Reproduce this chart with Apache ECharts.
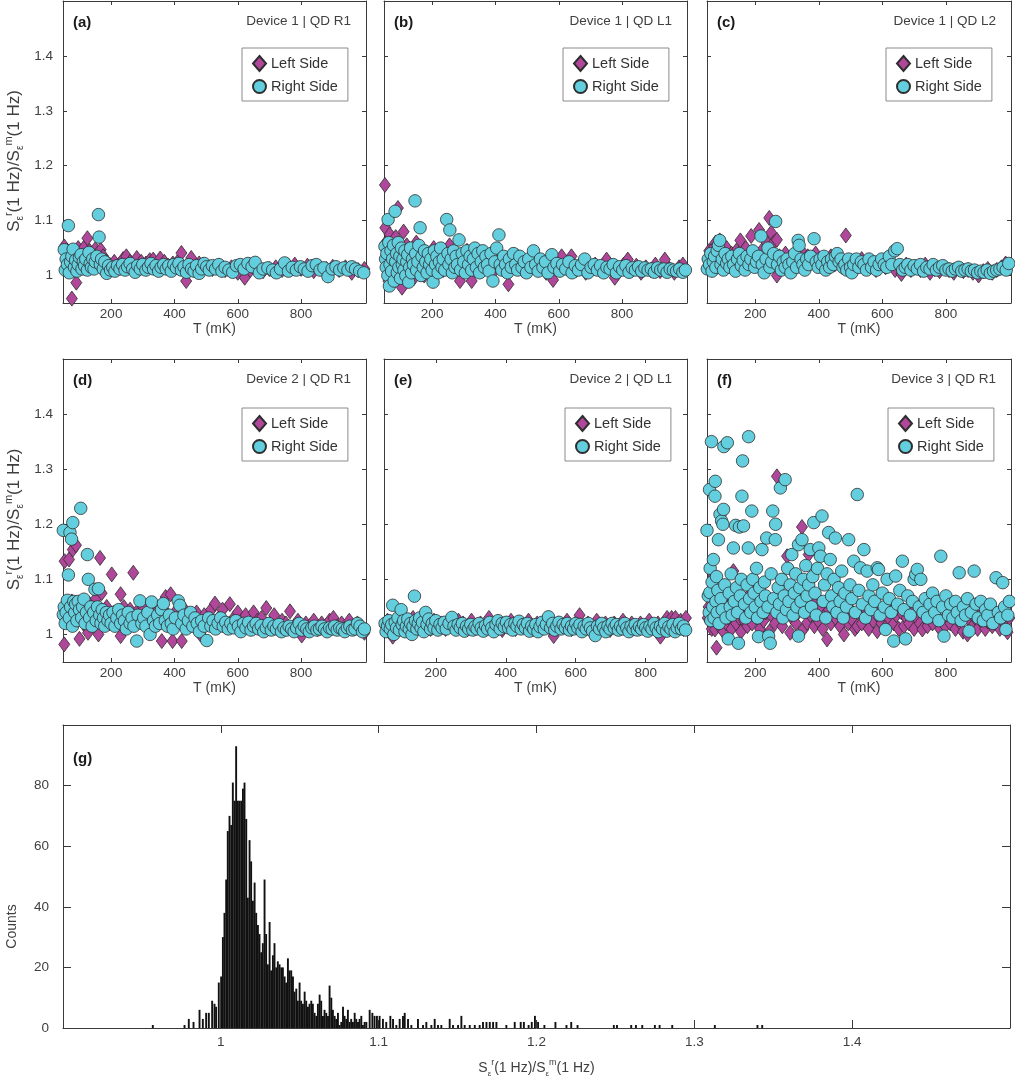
<!DOCTYPE html>
<html>
<head>
<meta charset="utf-8">
<script src="https://cdn.jsdelivr.net/npm/echarts@6/dist/echarts.min.js"></script>
<style>
html,body{margin:0;padding:0;background:#fff;}
#chart{width:1015px;height:1084px;}
</style>
</head>
<body>
<div id="chart"></div>
<script>
// ---------------- DATA ----------------
// Panel (a) Device 1 | QD R1  : [T (mK), ratio]
const aL = [[52,1.053],[56,1.03],[62,1.045],[70,1.035],[76,0.958],[82,1.04],[90,0.987],[96,1.05],[104,1.04],[113,1.05],[120,1.035],[125,1.068],[132,1.045],[140,1.03],[150,1.048],[158,1.04],[167,1.047],[175,1.035],[185,1.025],[195,1.02],[210,1.025],[225,1.02],[238,1.03],[248,1.035],[260,1.025],[270,1.02],[281,1.032],[295,1.025],[310,1.022],[322,1.028],[333,1.029],[345,1.02],[355,1.031],[368,1.025],[380,1.018],[395,1.022],[410,1.025],[422,1.041],[437,0.990],[445,1.02],[453,1.032],[465,1.015],[478,1.022],[490,1.02],[505,1.015],[520,1.012],[540,1.018],[560,1.01],[580,1.015],[600,1.005],[622,0.996],[640,1.01],[660,1.015],[680,1.008],[700,1.012],[720,1.015],[740,1.01],[760,1.018],[780,1.02],[800,1.012],[820,1.018],[840,1.008],[860,1.015],[880,1.012],[900,1.016],[920,1.01],[940,1.015],[960,1.005],[980,1.01],[1000,1.012]];
const aR = [[52,1.047],[55,1.01],[58,1.03],[62,1.02],[65,1.091],[68,1.005],[72,1.025],[76,1.035],[80,1.048],[84,1.015],[88,1.028],[92,1.008],[96,1.02],[100,1.033],[105,1.038],[108,1.012],[112,1.025],[116,1.018],[120,1.03],[125,1.01],[130,1.042],[134,1.022],[138,1.015],[142,1.03],[146,1.012],[150,1.025],[155,1.035],[160,1.111],[162,1.07],[166,1.02],[170,1.03],[175,1.012],[180,1.025],[186,1.004],[192,1.018],[198,1.01],[205,1.015],[212,1.008],[220,1.018],[228,1.012],[236,1.02],[244,1.01],[252,1.016],[260,1.022],[268,1.012],[276,1.006],[284,1.018],[292,1.012],[300,1.02],[310,1.01],[318,1.015],[326,1.022],[334,1.012],[342,1.018],[350,1.008],[358,1.015],[366,1.02],[374,1.012],[382,1.018],[390,1.008],[398,1.02],[406,1.014],[414,1.022],[422,1.01],[430,1.016],[438,1.006],[446,1.02],[454,1.012],[462,1.008],[470,1.018],[478,1.004],[486,1.012],[494,1.022],[502,1.016],[510,1.01],[520,1.018],[530,1.012],[540,1.02],[550,1.008],[560,1.015],[572,1.01],[584,1.006],[596,1.018],[608,1.02],[620,1.012],[632,1.022],[645,1.016],[655,1.024],[668,1.005],[680,1.012],[695,1.014],[710,1.01],[722,1.005],[735,1.012],[748,1.023],[760,1.008],[772,1.015],[785,1.01],[798,1.016],[810,1.012],[822,1.008],[835,1.018],[848,1.02],[860,1.01],[872,1.014],[885,0.998],[898,1.012],[910,1.016],[922,1.01],[935,1.014],[948,1.01],[960,1.016],[972,1.012],[985,1.008],[998,1.005]];

// Panel (b) Device 1 | QD L1
const bL = [[51,1.165],[52,1.087],[54,1.06],[58,1.04],[62,0.99],[66,1.075],[70,1.02],[75,1.05],[80,1.03],[85,1.07],[92,1.123],[96,1.045],[100,1.015],[105,0.978],[110,1.08],[115,1.035],[120,1.055],[128,1.02],[135,1.04],[142,0.995],[150,1.06],[158,1.025],[166,1.045],[175,1.0],[185,1.035],[195,1.015],[205,1.05],[215,1.025],[225,1.04],[235,1.01],[245,1.03],[255,1.055],[265,1.02],[275,1.04],[288,0.99],[298,1.025],[310,1.045],[325,0.99],[335,1.03],[348,1.015],[360,1.04],[372,1.02],[385,1.035],[398,1.01],[410,1.03],[425,1.02],[441,0.984],[455,1.025],[470,1.035],[485,1.01],[500,1.02],[515,1.03],[530,1.015],[545,1.025],[560,1.005],[582,0.992],[595,1.015],[609,1.035],[625,1.02],[640,1.035],[655,1.01],[670,1.02],[685,1.005],[700,1.015],[715,1.02],[730,1.01],[751,1.029],[765,1.015],[777,0.996],[790,1.012],[805,1.02],[818,1.029],[832,1.01],[845,1.018],[860,1.005],[875,1.015],[890,1.01],[905,1.02],[920,1.008],[935,1.029],[950,1.012],[965,1.005],[980,1.015],[992,1.02]];
const bR = [[51,1.053],[53,1.03],[55,1.015],[57,1.04],[60,1.0],[61,1.102],[63,1.06],[65,0.981],[67,1.02],[70,1.045],[72,1.008],[75,1.03],[78,1.055],[80,0.99],[83,1.117],[85,1.025],[88,1.04],[90,1.005],[93,1.06],[95,1.015],[98,1.035],[100,0.995],[103,1.05],[106,1.02],[108,1.03],[111,1.01],[114,1.045],[117,1.0],[120,1.025],[123,1.038],[126,0.988],[129,1.015],[132,1.05],[135,1.005],[138,1.03],[141,1.02],[146,1.136],[148,1.04],[151,1.01],[155,1.025],[158,1.055],[162,1.087],[165,1.0],[168,1.035],[172,1.015],[176,1.045],[180,1.025],[184,1.005],[188,1.04],[192,1.02],[196,1.03],[200,1.01],[203,0.988],[207,1.045],[211,1.02],[215,1.035],[219,1.005],[223,1.025],[227,1.05],[231,1.015],[235,1.03],[240,1.01],[246,1.102],[250,1.04],[253,1.02],[256,1.083],[260,1.03],[264,1.005],[268,1.045],[272,1.015],[276,1.035],[280,1.02],[285,1.065],[290,1.01],[295,1.04],[300,1.025],[305,1.005],[310,1.045],[315,1.02],[320,1.035],[325,1.01],[330,1.03],[335,1.05],[340,1.015],[345,1.04],[350,1.005],[355,1.025],[360,1.045],[365,1.015],[370,1.035],[375,1.02],[380,1.008],[386,1.04],[392,0.99],[398,1.025],[404,1.05],[411,1.074],[415,1.02],[420,1.01],[426,1.035],[432,1.02],[438,1.005],[444,1.03],[450,1.015],[457,1.04],[464,1.02],[470,1.01],[477,1.035],[484,1.015],[491,1.025],[498,1.005],[505,1.03],[512,1.015],[520,1.045],[527,1.02],[535,1.008],[542,1.03],[550,1.015],[558,1.025],[566,1.005],[578,1.038],[585,1.015],[594,1.022],[603,1.008],[612,1.02],[622,1.012],[632,1.025],[642,1.005],[652,1.018],[662,1.01],[672,1.02],[682,1.03],[692,1.005],[702,1.015],[712,1.02],[722,1.01],[732,1.018],[742,1.005],[752,1.015],[762,1.012],[772,1.02],[782,1.005],[792,1.016],[802,1.01],[812,1.018],[822,1.006],[832,1.014],[842,1.01],[852,1.016],[862,1.008],[872,1.014],[882,1.01],[892,1.012],[902,1.006],[912,1.014],[922,1.01],[932,1.012],[942,1.006],[952,1.012],[962,1.01],[972,1.008],[982,1.012],[992,1.006],[1000,1.01]];

// Panel (c) Device 1 | QD L2
const cL = [[50,1.03],[55,1.045],[62,1.025],[68,1.05],[75,1.06],[82,1.035],[88,1.064],[95,1.045],[102,1.025],[110,1.05],[118,1.03],[125,1.04],[132,1.015],[140,1.045],[153,1.064],[160,1.03],[170,1.05],[178,1.025],[187,1.072],[195,1.04],[203,1.02],[212,1.083],[220,1.045],[228,1.025],[236,1.06],[244,1.105],[250,1.078],[258,1.06],[268,1.065],[268,1.0],[276,1.035],[285,1.02],[295,1.04],[305,1.025],[315,1.035],[325,1.015],[335,1.03],[345,1.045],[355,1.02],[365,1.035],[375,1.025],[390,1.04],[400,1.02],[412,1.03],[425,1.015],[438,1.035],[450,1.02],[462,1.03],[474,1.015],[485,1.073],[495,1.025],[508,1.01],[520,1.02],[535,1.03],[550,1.015],[565,1.025],[580,1.01],[595,1.02],[610,1.015],[625,1.025],[640,1.01],[660,1.003],[675,1.02],[690,1.01],[705,1.015],[720,1.01],[735,1.02],[750,1.005],[765,1.012],[780,1.008],[795,1.015],[810,1.01],[825,1.005],[840,1.012],[855,1.008],[870,1.01],[885,1.005],[903,1.0],[918,1.008],[932,1.012],[946,1.005],[960,1.01],[975,1.015],[988,1.022]];
const cR = [[49,1.012],[52,1.03],[56,1.02],[60,1.04],[64,1.008],[68,1.025],[72,1.035],[76,1.015],[80,1.045],[84,1.055],[88,1.064],[92,1.02],[96,1.03],[100,1.01],[105,1.04],[110,1.022],[115,1.03],[120,1.015],[126,1.035],[132,1.02],[138,1.008],[144,1.03],[150,1.04],[156,1.018],[162,1.028],[168,1.01],[174,1.035],[180,1.02],[186,1.03],[192,1.045],[198,1.015],[204,1.025],[210,1.035],[218,1.072],[222,1.02],[228,1.005],[234,1.03],[240,1.05],[246,1.015],[252,1.025],[258,1.04],[264,1.0985],[270,1.02],[276,1.035],[282,1.01],[288,1.025],[294,1.015],[300,1.03],[306,1.02],[312,1.005],[318,1.025],[324,1.04],[330,1.015],[335,1.064],[338,1.055],[344,1.03],[350,1.02],[356,1.01],[362,1.03],[368,1.02],[374,1.035],[385,1.067],[392,1.025],[398,1.015],[404,1.03],[410,1.02],[416,1.035],[422,1.01],[428,1.025],[434,1.015],[440,1.03],[446,1.02],[452,1.035],[458,1.04],[464,1.025],[470,1.03],[476,1.015],[482,1.02],[488,1.01],[494,1.03],[500,1.015],[504,1.005],[510,1.02],[518,1.03],[526,1.015],[534,1.025],[542,1.02],[550,1.01],[558,1.03],[566,1.015],[574,1.025],[582,1.01],[590,1.02],[598,1.03],[606,1.02],[614,1.015],[622,1.035],[630,1.02],[639,1.045],[647,1.049],[655,1.02],[664,1.01],[672,1.015],[680,1.02],[690,1.01],[700,1.018],[710,1.012],[720,1.02],[730,1.008],[740,1.015],[750,1.012],[760,1.02],[770,1.01],[780,1.015],[790,1.018],[800,1.01],[810,1.012],[820,1.008],[830,1.012],[840,1.015],[850,1.008],[860,1.01],[870,1.012],[880,1.008],[890,1.01],[900,1.005],[910,1.008],[920,1.006],[930,1.01],[940,1.004],[950,1.008],[960,1.01],[970,1.012],[980,1.015],[990,1.01],[998,1.022]];

// Panel (d) Device 2 | QD R1
const dL = [[52,0.982],[53,1.133],[56,1.05],[60,1.03],[64,1.045],[67,1.136],[72,1.025],[76,1.06],[79,1.154],[84,1.04],[89,1.162],[94,1.03],[100,0.992],[105,1.05],[110,1.035],[115,1.02],[120,1.045],[125,1.01],[127,1.003],[132,1.055],[138,1.03],[145,1.04],[152,1.065],[160,1.0],[165,1.139],[170,1.075],[178,1.035],[186,1.05],[194,1.02],[202,1.109],[210,1.04],[218,1.025],[230,1.073],[230,0.997],[240,1.05],[250,1.03],[260,1.045],[270,1.112],[280,1.04],[290,1.025],[300,1.05],[312,1.02],[322,1.04],[335,1.03],[348,1.045],[360,0.988],[372,1.068],[380,1.035],[388,1.073],[394,0.988],[402,1.04],[412,1.025],[423,0.988],[432,1.045],[445,1.03],[458,1.02],[470,1.04],[482,1.0],[494,1.035],[505,1.02],[516,1.045],[528,1.056],[540,1.03],[552,1.045],[564,1.02],[575,1.055],[588,1.03],[600,1.04],[612,1.025],[625,1.035],[638,1.015],[650,1.04],[662,1.025],[675,1.03],[690,1.048],[702,1.02],[715,1.035],[728,1.01],[740,1.025],[752,1.02],[765,1.042],[778,1.015],[790,1.025],[802,0.998],[815,1.02],[828,1.015],[840,1.025],[852,1.01],[865,1.02],[878,1.015],[890,1.025],[902,1.03],[915,1.015],[928,1.02],[940,1.01],[952,1.025],[965,1.015],[978,1.02],[990,1.01],[1000,1.003]];
const dR = [[49,1.189],[49,1.036],[52,1.05],[55,1.02],[58,1.04],[62,1.062],[65,1.108],[68,1.03],[70,1.185],[72,1.05],[75,1.173],[78,1.015],[79,1.203],[82,1.06],[85,1.04],[88,1.055],[92,1.025],[96,1.06],[100,1.045],[104,1.229],[107,1.03],[110,1.05],[114,1.064],[118,1.02],[122,1.04],[125,1.145],[128,1.1],[132,1.03],[136,1.05],[140,1.015],[145,1.04],[149,1.082],[153,1.025],[157,1.05],[160,1.083],[164,1.035],[168,1.02],[172,1.045],[176,1.03],[180,1.015],[185,1.04],[190,1.025],[195,1.035],[200,1.02],[206,1.04],[212,1.015],[218,1.03],[224,1.045],[230,1.02],[236,1.035],[242,1.025],[248,1.01],[254,1.04],[260,1.02],[266,1.03],[272,1.015],[281,0.988],[285,1.035],[291,1.061],[297,1.02],[303,1.03],[310,1.015],[316,1.04],[323,1.0],[328,1.059],[334,1.025],[340,1.015],[347,1.035],[353,1.02],[359,1.045],[365,1.056],[371,1.025],[378,1.015],[384,1.035],[390,1.02],[396,1.01],[403,1.03],[412,1.061],[417,1.053],[423,1.02],[430,1.035],[437,1.01],[444,1.025],[451,1.04],[458,1.015],[465,1.03],[472,1.02],[479,1.005],[486,1.025],[494,1.015],[502,0.989],[508,1.03],[515,1.015],[522,1.025],[530,1.01],[538,1.02],[546,1.03],[554,1.015],[562,1.022],[570,1.01],[578,1.02],[586,1.012],[594,1.025],[602,1.015],[610,1.005],[618,1.02],[626,1.012],[634,1.022],[642,1.008],[650,1.015],[658,1.02],[666,1.01],[674,1.016],[682,1.005],[690,1.012],[698,1.02],[706,1.008],[714,1.015],[722,1.01],[730,1.018],[738,1.005],[746,1.012],[754,1.008],[762,1.015],[770,1.01],[778,1.005],[786,1.012],[794,1.02],[802,1.008],[810,1.015],[818,1.01],[826,1.005],[834,1.012],[842,1.015],[850,1.008],[858,1.01],[866,1.015],[874,1.01],[882,1.005],[890,1.012],[898,1.01],[906,1.015],[914,1.008],[922,1.012],[930,1.01],[938,1.005],[946,1.012],[954,1.015],[962,1.008],[970,1.01],[978,1.02],[986,1.015],[994,1.005],[1000,1.01]];

// Panel (e) Device 2 | QD L1
const eL = [[55,1.015],[62,1.025],[70,1.01],[77,0.996],[85,1.02],[95,1.015],[105,1.025],[115,1.01],[125,1.02],[135,1.03],[145,1.015],[155,1.025],[165,1.035],[175,1.02],[185,1.01],[195,1.025],[205,1.015],[215,1.02],[228,1.01],[240,1.02],[252,1.015],[265,1.025],[278,1.02],[290,1.01],[302,1.025],[315,1.015],[328,1.02],[340,1.01],[352,1.03],[365,1.015],[378,1.02],[390,1.008],[402,1.02],[415,1.025],[428,1.01],[440,1.02],[452,1.015],[465,1.025],[478,1.01],[490,1.02],[503,1.015],[515,1.025],[528,1.01],[537,0.997],[550,1.02],[562,1.015],[575,1.025],[588,1.01],[600,1.02],[611,1.035],[622,1.015],[635,1.02],[648,1.01],[660,1.025],[672,1.015],[685,1.02],[698,1.008],[710,1.02],[722,1.015],[735,1.025],[748,1.01],[760,1.02],[772,1.012],[785,1.02],[798,1.01],[810,1.025],[822,1.015],[835,1.02],[842,0.996],[850,1.015],[861,1.03],[868,1.01],[874,1.03],[880,1.02],[885,1.03],[892,1.015],[900,1.025],[908,1.01],[915,1.03]];
const eR = [[55,1.02],[58,1.005],[62,1.015],[66,1.025],[70,1.01],[74,1.018],[77,1.053],[80,1.0],[84,1.022],[88,1.012],[92,1.03],[96,1.008],[101,1.045],[104,1.018],[108,1.025],[112,1.005],[116,1.015],[120,1.028],[124,1.01],[128,1.02],[132,1.0],[135,1.015],[139,1.0695],[142,1.025],[146,1.01],[150,1.02],[154,1.03],[158,1.012],[162,1.022],[166,1.005],[171,1.04],[175,1.018],[180,1.028],[185,1.01],[190,1.02],[195,1.012],[200,1.025],[206,1.008],[212,1.018],[218,1.012],[224,1.022],[230,1.01],[238,1.02],[246,1.031],[252,1.015],[258,1.008],[264,1.018],[270,1.012],[276,1.02],[282,1.006],[288,1.015],[294,1.01],[300,1.018],[306,1.008],[312,1.014],[318,1.01],[324,1.02],[330,1.012],[336,1.006],[342,1.016],[348,1.01],[354,1.022],[360,1.012],[366,1.005],[372,1.018],[378,1.025],[384,1.01],[390,1.02],[396,1.014],[402,1.022],[408,1.012],[414,1.018],[420,1.008],[426,1.02],[432,1.015],[438,1.024],[444,1.01],[450,1.018],[456,1.012],[462,1.02],[468,1.006],[474,1.015],[480,1.01],[486,1.018],[492,1.005],[498,1.014],[504,1.022],[510,1.01],[516,1.018],[522,1.032],[528,1.012],[534,1.02],[540,1.008],[546,1.015],[552,1.022],[558,1.01],[564,1.018],[570,1.012],[576,1.02],[582,1.008],[588,1.015],[594,1.01],[600,1.02],[606,1.012],[612,1.018],[618,1.005],[624,1.015],[630,1.01],[636,1.02],[642,1.012],[648,1.006],[656,0.998],[662,1.015],[668,1.01],[674,1.02],[680,1.012],[686,1.005],[692,1.015],[698,1.01],[704,1.02],[710,1.012],[716,1.018],[722,1.008],[728,1.015],[734,1.01],[740,1.02],[746,1.012],[752,1.005],[758,1.015],[764,1.01],[770,1.018],[776,1.008],[782,1.014],[788,1.01],[794,1.018],[800,1.012],[806,1.006],[812,1.015],[818,1.01],[824,1.02],[830,1.012],[836,1.005],[842,1.015],[848,1.01],[854,1.02],[860,1.006],[866,1.014],[872,1.01],[878,1.018],[884,1.005],[890,1.012],[896,1.02],[902,1.01],[908,1.015],[914,1.008]];

// Panel (f) Device 3 | QD R1
const fL = [[50,1.03],[53,1.05],[57,1.024],[60,1.065],[63,1.01],[66,1.04],[68,1.106],[68,1.051],[71,1.02],[73,1.009],[75,1.055],[78,0.976],[81,1.035],[84,1.07],[87,1.015],[90,1.045],[94,1.025],[97,1.06],[100,1.005],[104,1.04],[108,1.02],[112,1.075],[116,1.03],[120,1.05],[125,1.01],[131,1.115],[135,1.04],[140,1.02],[145,1.065],[150,1.03],[155,1.005],[160,1.045],[165,1.025],[170,1.06],[175,1.015],[180,1.04],[185,1.075],[190,1.02],[195,1.05],[200,1.082],[205,1.03],[210,1.042],[215,1.01],[220,1.055],[226,1.025],[232,1.04],[238,1.065],[244,1.005],[250,1.035],[256,1.05],[262,1.02],[268,1.287],[273,1.04],[279,1.06],[285,1.015],[292,1.035],[300,1.142],[305,1.05],[310,1.003],[316,1.03],[322,1.055],[328,1.02],[335,1.04],[341,1.065],[347,1.195],[352,1.01],[358,1.045],[363,1.021],[368,1.145],[374,1.035],[380,1.06],[386,1.015],[392,1.04],[398,1.025],[405,1.05],[412,1.01],[419,1.035],[426,0.991],[432,1.045],[438,1.02],[445,1.06],[452,1.03],[460,1.04],[467,1.015],[473,1.05],[479,1.0],[486,1.035],[493,1.02],[500,1.045],[507,1.025],[514,1.01],[521,1.015],[528,1.04],[535,1.02],[542,1.05],[550,1.03],[557,1.01],[564,1.04],[571,1.025],[578,1.045],[584,1.006],[590,1.03],[597,1.02],[605,1.04],[612,1.015],[620,1.03],[628,1.05],[636,1.02],[644,1.035],[652,1.01],[660,1.04],[668,1.015],[676,1.03],[684,1.02],[692,1.045],[700,1.01],[708,1.03],[718,1.02],[726,1.009],[734,1.035],[742,1.015],[750,1.04],[758,1.02],[766,1.03],[774,1.045],[782,1.01],[790,1.025],[798,1.015],[806,1.035],[814,1.02],[822,1.04],[830,1.01],[838,1.03],[846,1.02],[854,1.005],[861,1.035],[868,1.0],[876,1.025],[884,1.015],[892,1.03],[900,1.01],[908,1.04],[916,1.02],[924,1.01],[931,1.024],[938,1.035],[946,1.015],[954,1.03],[962,1.02],[970,1.01],[978,1.035],[986,1.02],[994,1.004],[1000,1.03]];
const fR = [[48,1.189],[52,1.07],[55,1.04],[56,1.263],[57,1.076],[58,1.12],[60,1.025],[62,1.35],[64,1.095],[66,1.05],[68,1.136],[70,1.03],[73,1.251],[74,1.278],[76,1.06],[78,1.105],[80,1.04],[82,1.08],[84,1.172],[86,1.02],[89,1.218],[92,1.065],[94,1.206],[96,1.045],[98,1.2],[100,1.227],[101,1.341],[104,1.09],[108,1.03],[112,1.348],[115,0.992],[118,1.075],[121,1.05],[124,1.11],[127,1.035],[131,1.157],[134,1.06],[138,1.198],[141,1.085],[144,1.04],[147,0.984],[150,1.195],[153,1.07],[156,1.1],[158,1.251],[160,1.315],[163,1.197],[166,1.055],[170,1.03],[174,1.09],[178,1.157],[179,1.359],[182,1.065],[186,1.04],[189,1.224],[192,1.1],[196,1.075],[200,1.05],[204,1.12],[207,1.03],[210,0.996],[214,1.085],[218,1.06],[221,1.154],[225,1.04],[229,1.095],[232,1.07],[236,1.175],[240,1.05],[242,0.997],[247,0.984],[250,1.11],[255,1.224],[258,1.065],[263,1.172],[264,1.2],[268,1.04],[272,1.085],[276,1.055],[279,1.266],[283,1.1],[287,1.03],[291,1.07],[294,1.281],[298,1.045],[302,1.12],[306,1.06],[310,1.09],[315,1.145],[319,1.035],[323,1.075],[327,1.11],[331,1.05],[336,1.163],[336,0.997],[340,1.085],[344,1.06],[347,1.172],[351,1.1],[355,1.04],[359,1.125],[363,1.07],[368,1.09],[373,1.154],[377,1.05],[381,1.105],[384,1.203],[388,1.075],[392,1.035],[396,1.12],[400,1.157],[405,1.142],[410,1.215],[414,1.06],[418,1.09],[422,1.03],[426,1.11],[431,1.185],[436,1.136],[440,1.07],[444,1.05],[448,1.1],[452,1.175],[457,1.04],[462,1.085],[467,1.06],[472,1.115],[477,1.03],[482,1.075],[487,1.05],[494,1.172],[498,1.09],[504,1.065],[510,1.133],[515,1.04],[521,1.254],[526,1.08],[531,1.121],[537,1.055],[542,1.154],[547,1.03],[552,1.115],[558,1.07],[564,1.045],[570,1.09],[576,1.06],[584,1.121],[588,1.118],[593,1.035],[600,1.075],[606,1.05],[610,1.009],[615,1.1],[622,1.065],[628,1.04],[636,0.988],[642,1.106],[648,1.055],[655,1.08],[663,1.133],[668,1.045],[673,0.992],[680,1.07],[688,1.035],[695,1.06],[700,1.1],[705,1.109],[710,1.118],[716,1.05],[721,1.1],[728,1.04],[735,1.065],[742,1.03],[750,1.055],[758,1.075],[765,1.04],[772,1.06],[778,1.025],[784,1.142],[790,1.05],[794,0.997],[800,1.07],[808,1.035],[815,1.055],[822,1.03],[830,1.06],[836,1.04],[842,1.112],[848,1.025],[855,1.05],[862,1.035],[868,1.065],[873,1.006],[880,1.04],[889,1.115],[895,1.055],[902,1.03],[910,1.06],[918,1.025],[925,1.045],[932,1.035],[940,1.055],[948,1.02],[958,1.103],[965,1.04],[972,1.03],[979,1.094],[985,1.05],[989,1.009],[995,1.035],[1000,1.06]];

// Panel (g) histogram: bin centres and counts
const histCenters = [0.9569,0.9770,0.9797,0.9827,0.9865,0.9886,0.9907,0.9924,0.9945,0.9960,0.9970,0.9987,1.0002,1.0013,1.0023,1.0034,1.0044,1.0055,1.0066,1.0076,1.0087,1.0097,1.0108,1.0118,1.0129,1.0140,1.0150,1.0161,1.0171,1.0182,1.0192,1.0203,1.0214,1.0224,1.0235,1.0245,1.0256,1.0266,1.0277,1.0287,1.0298,1.0309,1.0319,1.0330,1.0340,1.0351,1.0361,1.0372,1.0383,1.0393,1.0404,1.0414,1.0425,1.0435,1.0446,1.0457,1.0467,1.0478,1.0488,1.0499,1.0509,1.0520,1.0531,1.0541,1.0552,1.0562,1.0573,1.0583,1.0594,1.0605,1.0615,1.0626,1.0636,1.0647,1.0657,1.0668,1.0679,1.0689,1.0700,1.0710,1.0721,1.0731,1.0742,1.0752,1.0763,1.0774,1.0784,1.0795,1.0805,1.0816,1.0826,1.0837,1.0848,1.0858,1.0869,1.0879,1.0890,1.0900,1.0911,1.0922,1.0943,1.0960,1.0974,1.0989,1.1006,1.1027,1.1048,1.1074,1.1091,1.1112,1.1133,1.1154,1.1165,1.1186,1.1207,1.1249,1.1281,1.1302,1.1334,1.1355,1.1376,1.1397,1.1450,1.1471,1.1503,1.1524,1.1545,1.1577,1.1609,1.1640,1.1661,1.1683,1.1704,1.1725,1.1746,1.1809,1.1862,1.190,1.192,1.195,1.197,1.199,1.201,1.205,1.212,1.219,1.222,1.226,1.249,1.251,1.260,1.263,1.267,1.275,1.278,1.286,1.313,1.340,1.343,1.346,1.357];
const histCounts = [1,1,3,2,6,3,5,5,9,8,7,15,17,30,38,49,65,70,67,81,75,93,75,75,75,79,81,69,43,62,55,42,48,38,34,31,25,28,49,31,21,35,19,24,28,20,22,21,20,20,17,15,23,19,19,17,12,13,9,15,9,8,12,9,7,8,9,8,5,4,8,11,9,4,6,5,4,14,10,6,4,3,5,1,2,7,4,3,6,2,3,2,5,3,2,3,4,1,2,2,6,5,4,4,4,3,2,4,3,1,3,4,5,3,1,3,1,2,1,3,1,1,3,1,1,4,1,1,1,1,2,2,2,2,2,1,2,2,2,1,2,4,2,1,2,1,2,1,1,1,1,1,1,1,1,1,1,1,1];

const panelLabels = ['(a)','(b)','(c)','(d)','(e)','(f)','(g)'];
const panelTitles = ['Device 1 | QD R1','Device 1 | QD L1','Device 1 | QD L2','Device 2 | QD R1','Device 2 | QD L1','Device 3 | QD R1'];
const seriesNames = ['Left Side','Right Side'];
const tTicks = [200,400,600,800];
const ratioTicks = [1,1.1,1.2,1.3,1.4];
const countTicks = [0,20,40,60,80];
const xRanges = [[48,1005],[48,1005],[48,1005],[48,1005],[52,918],[48,1005]];

// ---------------- LAYOUT ----------------
const FONT = '"Liberation Sans", Arial, Helvetica, sans-serif';
const TXT = '#404040';
const LINE = '#3a3a3a';
const colLeft = [63,384,707], colWidth = [303,303,304];
const rowTop = [1,359], rowHeight = [302,303];
const legendLeft = [[242,563,886],[242,565,888]];
const legendTop = [48,408];
const panelData = [[aL,aR],[bL,bR],[cL,cR],[dL,dR],[eL,eR],[fL,fR]];

function richStyles(base, lh){
  return {
    n:{fontSize:base,color:TXT,fontFamily:FONT,lineHeight:lh},
    sb:{fontSize:Math.round(base*0.6),color:TXT,fontFamily:FONT,lineHeight:lh,verticalAlign:'bottom'},
    sp:{fontSize:Math.round(base*0.66),color:TXT,fontFamily:FONT,lineHeight:lh,verticalAlign:'top'}
  };
}
const ratioName = '{n|S}{sb|ε}{sp|r}{n|(1 Hz)/S}{sb|ε}{sp|m}{n|(1 Hz)}';
const fmt1 = v => String(+(+v).toFixed(1));

const option = {animation:false, backgroundColor:'#fff', grid:[], xAxis:[], yAxis:[], series:[], legend:[], graphic:[]};

function axisBase(gi, pos, min, max, ticks, showLabel, tickLen, labelMargin, fmt){
  return {
    gridIndex:gi, type:'value', position:pos, min:min, max:max,
    axisLine:{show:true, onZero:false, lineStyle:{color:LINE,width:1}},
    axisTick:{show:true, inside:true, length:tickLen, customValues:ticks, lineStyle:{color:LINE,width:1}},
    axisLabel:{show:showLabel, customValues:ticks, color:TXT, fontSize:13.5, fontFamily:FONT, margin:labelMargin, formatter:fmt},
    splitLine:{show:false}
  };
}

panelData.forEach((pd,i)=>{
  const r = Math.floor(i/3), c = i%3;
  const left = colLeft[c], top = rowTop[r], w = colWidth[c], h = rowHeight[r];
  const [xmin,xmax] = xRanges[i];
  option.grid.push({left:left, top:top, width:w, height:h, show:false, containLabel:false, outerBoundsMode:'none'});
  const xb = axisBase(i,'bottom',xmin,xmax,tTicks,true,4,4,v=>String(v));
  xb.name = 'T (mK)'; xb.nameLocation='middle'; xb.nameGap=19;
  xb.nameTextStyle = {fontSize:14,color:TXT,fontFamily:FONT};
  option.xAxis.push(xb);
  option.xAxis.push(axisBase(i,'top',xmin,xmax,tTicks,false,4,4));
  const yl = axisBase(i,'left',0.95,1.5,ratioTicks,c===0,4,10,fmt1);
  if(c===0){
    yl.name = ratioName; yl.nameLocation='middle'; yl.nameGap=38;
    yl.nameTextStyle={rich:richStyles(17,22), padding:[0,18,0,0]};
  }
  option.yAxis.push(yl);
  option.yAxis.push(axisBase(i,'right',0.95,1.5,ratioTicks,false,4,4));
  option.series.push({type:'scatter', name:seriesNames[0], xAxisIndex:2*i, yAxisIndex:2*i, data:pd[0],
    symbol:'diamond', symbolSize:[11,15], itemStyle:{color:'#B0479B', borderColor:'#2e2e2e', borderWidth:0.8, opacity:1}, z:2});
  option.series.push({type:'scatter', name:seriesNames[1], xAxisIndex:2*i, yAxisIndex:2*i, data:pd[1],
    symbol:'circle', symbolSize:12.5, itemStyle:{color:'#62CEDE', borderColor:'#2e2e2e', borderWidth:0.8, opacity:1}, z:3});
  option.legend.push({
    left:legendLeft[r][c], top:legendTop[r], orient:'vertical', data:seriesNames, selectedMode:false,
    itemWidth:13, itemHeight:15, itemGap:7, padding:[7,10,7,10],
    borderColor:'#8a8a8a', borderWidth:1, borderRadius:0, backgroundColor:'#fff',
    textStyle:{fontSize:14.5, color:'#333', fontFamily:FONT}
  });
  option.graphic.push({type:'text', z:100, x:left+10, y:top+22,
    style:{text:panelLabels[i], font:'bold 15px '+FONT, fill:'#1a1a1a', textAlign:'left', textVerticalAlign:'middle'}});
  option.graphic.push({type:'text', z:100, x:left+w-15, y:top+20,
    style:{text:panelTitles[i], font:'13.5px '+FONT, fill:TXT, textAlign:'right', textVerticalAlign:'middle'}});
});

// Histogram panel
const hg = 6;
option.grid.push({left:63, top:725, width:947, height:303, show:false, containLabel:false, outerBoundsMode:'none'});
const hxb = axisBase(hg,'bottom',0.9,1.5,ratioTicks,true,8,7,fmt1);
hxb.name = ratioName; hxb.nameLocation='middle'; hxb.nameGap=30; hxb.nameTextStyle={rich:richStyles(14,20)};
option.xAxis.push(hxb);
option.xAxis.push(axisBase(hg,'top',0.9,1.5,ratioTicks,false,8,4));
const hyl = axisBase(hg,'left',0,100,countTicks,true,8,14,v=>String(v));
hyl.name='Counts'; hyl.nameLocation='middle'; hyl.nameGap=44;
hyl.nameTextStyle={fontSize:14,color:TXT,fontFamily:FONT,padding:[0,100,0,0]};
option.yAxis.push(hyl);
option.yAxis.push(axisBase(hg,'right',0,100,countTicks,false,8,4));
option.series.push({type:'bar', name:'hist', xAxisIndex:12, yAxisIndex:12,
  data: histCenters.map((u,k)=>[u,histCounts[k]]), barWidth:1.9, barGap:'0%',
  itemStyle:{color:'#111111'}});
option.graphic.push({type:'text', z:100, x:73, y:725+34,
  style:{text:panelLabels[6], font:'bold 15px '+FONT, fill:'#1a1a1a', textAlign:'left', textVerticalAlign:'middle'}});

const chart = echarts.init(document.getElementById('chart'), null, {renderer:'canvas'});
chart.setOption(option);
</script>
</body>
</html>
